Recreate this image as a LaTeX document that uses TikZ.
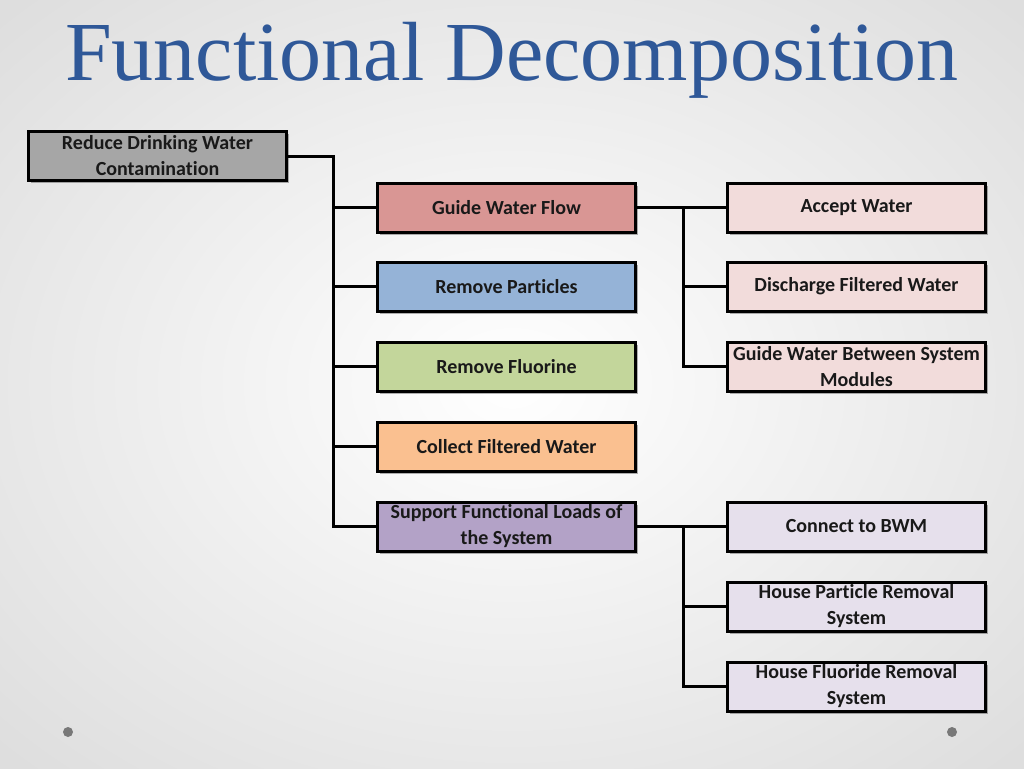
\documentclass[tikz,border=0pt]{standalone}
\usepackage{fontspec}
\setmainfont{Liberation Serif}
\newfontfamily\boxfont[Ligatures=NoCommon]{Carlito}
\usetikzlibrary{shadows}
\definecolor{titleblue}{RGB}{47,88,152}
\definecolor{cgray}{RGB}{166,166,166}
\definecolor{cred}{RGB}{217,150,148}
\definecolor{cblue}{RGB}{149,179,215}
\definecolor{cgreen}{RGB}{195,214,155}
\definecolor{corange}{RGB}{250,192,144}
\definecolor{cpurple}{RGB}{179,162,199}
\definecolor{cpink}{RGB}{242,220,219}
\definecolor{clav}{RGB}{230,224,236}
\definecolor{dotgray}{RGB}{120,120,120}
\tikzset{
  fbox/.style={draw=black, line width=3pt, rectangle, minimum width=258pt, minimum height=49pt,
    inner sep=1pt, align=center, font=\boxfont\bfseries\fontsize{20}{26}\selectfont, text=black!90,
    drop shadow={shadow xshift=2.5pt, shadow yshift=-2.5pt, opacity=0.3, fill=black}},
  conn/.style={draw=black, line width=3pt, line cap=rect}
}
\begin{document}
\begin{tikzpicture}[x=1pt,y=-1pt]
\useasboundingbox (0,0) rectangle (1024,768);
\shade[inner color=white, outer color=black!13] (-200,-150) rectangle (1224,918);
% title
\node[text=titleblue, font=\fontsize{84}{90}\selectfont, anchor=base] (title) at (512,80) {Functional Decomposition};
% boxes
\node[fbox, fill=cgray] (root) at (157.5,156) {Reduce Drinking Water\\Contamination};
\node[fbox, fill=cred] (gwf) at (506.5,207.5) {Guide Water Flow};
\node[fbox, fill=cblue] (rp) at (506.5,286.5) {Remove Particles};
\node[fbox, fill=cgreen] (rf) at (506.5,366.5) {Remove Fluorine};
\node[fbox, fill=corange] (cfw) at (506.5,446.5) {Collect Filtered Water};
\node[fbox, fill=cpurple] (sfl) at (506.5,526.5) {Support Functional Loads of\\the System};
\node[fbox, fill=cpink] (aw) at (856.5,207.5) {Accept Water};
\node[fbox, fill=cpink] (dfw) at (856.5,286.5) {Discharge Filtered Water};
\node[fbox, fill=cpink] (gwb) at (856.5,366.5) {Guide Water Between System\\Modules};
\node[fbox, fill=clav] (bwm) at (856.5,526.5) {Connect to BWM};
\node[fbox, fill=clav] (hpr) at (856.5,606.5) {House Particle Removal\\System};
\node[fbox, fill=clav] (hfr) at (856.5,686.5) {House Fluoride Removal\\System};
% junction coordinates
\coordinate (j1) at (333,0);
\coordinate (j2) at (683,0);
% connectors
\draw[conn] (root.east) -| (j1 |- sfl.west) -- (sfl.west);
\draw[conn] (j1 |- gwf.west) -- (gwf.west);
\draw[conn] (j1 |- rp.west) -- (rp.west);
\draw[conn] (j1 |- rf.west) -- (rf.west);
\draw[conn] (j1 |- cfw.west) -- (cfw.west);
\draw[conn] (gwf.east) -- (aw.west);
\draw[conn] (j2 |- gwf.east) -- (j2 |- gwb.west) -- (gwb.west);
\draw[conn] (j2 |- dfw.west) -- (dfw.west);
\draw[conn] (sfl.east) -- (bwm.west);
\draw[conn] (j2 |- sfl.east) -- (j2 |- hfr.west) -- (hfr.west);
\draw[conn] (j2 |- hpr.west) -- (hpr.west);
% corner dots
\fill[dotgray] (68,732) circle (5) node (dotl) {};
\fill[dotgray] (952,732) circle (5) node (dotr) {};
\end{tikzpicture}
\end{document}
